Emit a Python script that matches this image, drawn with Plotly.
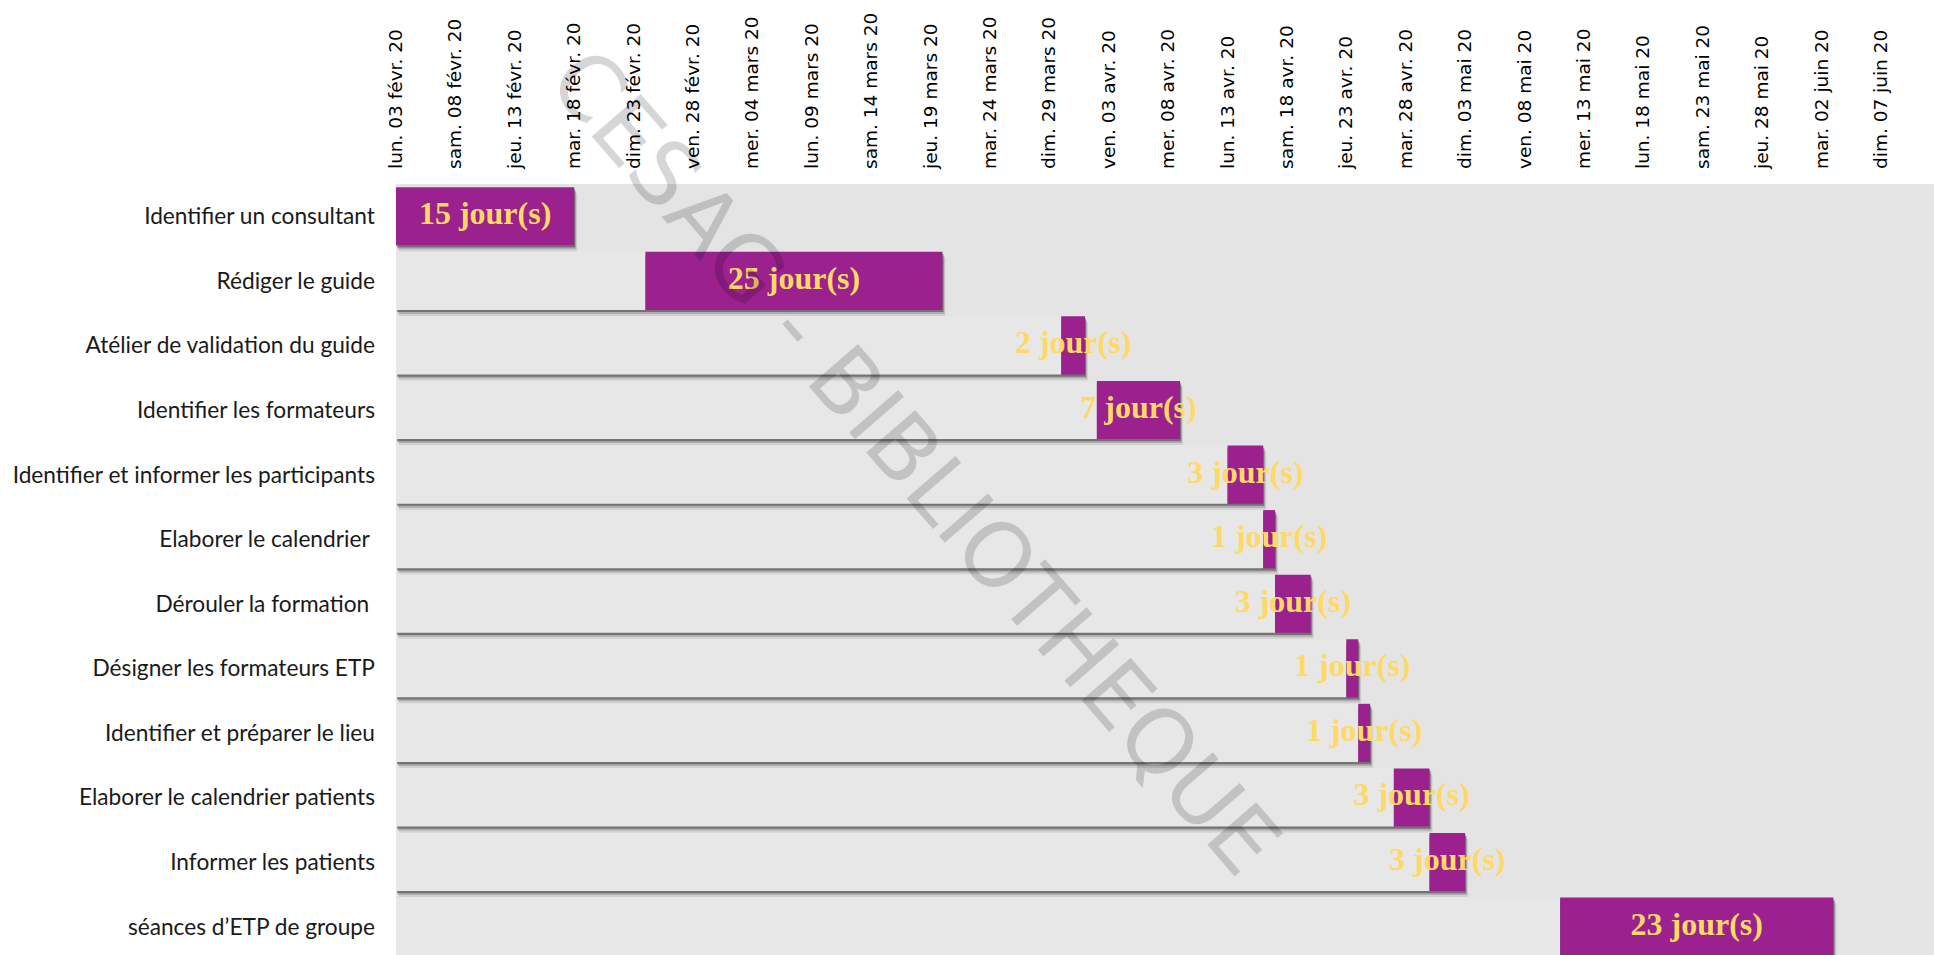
import pandas as pd
import plotly.graph_objects as go

# Tâches du planning
tasks = [
    "Identifier un consultant",
    "Rédiger le guide",
    "Atélier de validation du guide",
    "Identifier les formateurs",
    "Identifier et informer les participants",
    "Elaborer le calendrier\u00a0",
    "Dérouler la formation\u00a0",
    "Désigner les formateurs ETP",
    "Identifier et préparer le lieu",
    "Elaborer le calendrier patients",
    "Informer les patients",
    "séances d’ETP de groupe",
]
start_dates = [
    "2020-02-03", "2020-02-24", "2020-03-30", "2020-04-02", "2020-04-13", "2020-04-16",
    "2020-04-17", "2020-04-23", "2020-04-24", "2020-04-27", "2020-04-30", "2020-05-11",
]
durations = [15, 25, 2, 7, 3, 1, 3, 1, 1, 3, 3, 23]

tick_dates = [
    "2020-02-03", "2020-02-08", "2020-02-13", "2020-02-18", "2020-02-23", "2020-02-28",
    "2020-03-04", "2020-03-09", "2020-03-14", "2020-03-19", "2020-03-24", "2020-03-29",
    "2020-04-03", "2020-04-08", "2020-04-13", "2020-04-18", "2020-04-23", "2020-04-28",
    "2020-05-03", "2020-05-08", "2020-05-13", "2020-05-18", "2020-05-23", "2020-05-28",
    "2020-06-02", "2020-06-07", "2020-06-12",
]
tick_labels = [
    "lun. 03 févr. 20", "sam. 08 févr. 20", "jeu. 13 févr. 20", "mar. 18 févr. 20",
    "dim. 23 févr. 20", "ven. 28 févr. 20", "mer. 04 mars 20", "lun. 09 mars 20",
    "sam. 14 mars 20", "jeu. 19 mars 20", "mar. 24 mars 20", "dim. 29 mars 20",
    "ven. 03 avr. 20", "mer. 08 avr. 20", "lun. 13 avr. 20", "sam. 18 avr. 20",
    "jeu. 23 avr. 20", "mar. 28 avr. 20", "dim. 03 mai 20", "ven. 08 mai 20",
    "mer. 13 mai 20", "lun. 18 mai 20", "sam. 23 mai 20", "jeu. 28 mai 20",
    "mar. 02 juin 20", "dim. 07 juin 20", "ven. 12 juin 20",
]

axis_start = pd.Timestamp("2020-02-03")
axis_days = 129.47
DAY_MS = 86400000

starts = [pd.Timestamp(s) for s in start_dates]
offset_days = [(s - axis_start).days for s in starts]
end_days = [o + d for o, d in zip(offset_days, durations)]
rows = list(range(len(tasks)))

PX_X = 1 / 11.879   # days per pixel
PX_Y = 1 / 64.58    # rows per pixel
BAR_W = 0.9

fig = go.Figure()

# soft drop shadow under each full bar (offset + task)
for dx, dy, alpha in [(3, 6, 0.10), (2, 4, 0.22), (1, 2.2, 0.48)]:
    fig.add_trace(go.Bar(
        orientation="h",
        y=[r + dy * PX_Y for r in rows],
        base=[axis_start + pd.Timedelta(days=dx * PX_X)] * len(rows),
        x=[e * DAY_MS for e in end_days],
        width=BAR_W,
        marker=dict(color=f"rgba(50,50,50,{alpha})", line=dict(width=0)),
        hoverinfo="skip",
    ))

# spacer bars from the axis start to each task start
fig.add_trace(go.Bar(
    orientation="h",
    y=rows,
    base=[axis_start] * len(rows),
    x=[o * DAY_MS for o in offset_days],
    width=BAR_W,
    marker=dict(color="#e7e7e7", line=dict(width=0)),
    hoverinfo="skip",
))

# task bars
fig.add_trace(go.Bar(
    orientation="h",
    y=rows,
    base=starts,
    x=[d * DAY_MS for d in durations],
    width=BAR_W,
    marker=dict(color="#9a218e", line=dict(width=0)),
    hovertext=tasks,
))

# duration labels centred on each task bar
fig.add_trace(go.Scatter(
    x=[s + pd.Timedelta(days=d / 2) for s, d in zip(starts, durations)],
    y=rows,
    mode="text",
    text=[f"{d} jour(s)" for d in durations],
    textposition="middle center",
    textfont=dict(family="Liberation Serif", size=32, color="#FFD966", weight="bold"),
    hoverinfo="skip",
))

fig.add_annotation(
    text="CESAG - BIBLIOTHEQUE",
    xref="paper", yref="paper",
    x=0.338, y=0.64,
    xanchor="center", yanchor="middle",
    textangle=49,
    showarrow=False,
    font=dict(family="DejaVu Sans", size=89, color="rgba(0,0,0,0.16)"),
)

fig.update_layout(
    width=1934, height=955,
    margin=dict(l=396, r=0, t=184, b=0, pad=0),
    paper_bgcolor="white",
    plot_bgcolor="#e4e4e4",
    barmode="overlay",
    showlegend=False,
    xaxis=dict(
        type="date",
        side="top",
        range=[axis_start, axis_start + pd.Timedelta(days=axis_days)],
        tickvals=tick_dates,
        ticktext=tick_labels,
        tickangle=-90,
        tickfont=dict(family="DejaVu Sans", size=18.5, color="black"),
        ticks="",
        ticklabelstandoff=14,
        showgrid=False,
        zeroline=False,
        showline=False,
    ),
    yaxis=dict(
        tickvals=rows,
        ticktext=tasks,
        range=[11.44, -0.5],
        tickfont=dict(family="Lato", size=22.7, color="#1a1a1a"),
        ticks="",
        ticklabelstandoff=20,
        showgrid=False,
        zeroline=False,
        showline=False,
    ),
)

fig.write_html("out.html")
